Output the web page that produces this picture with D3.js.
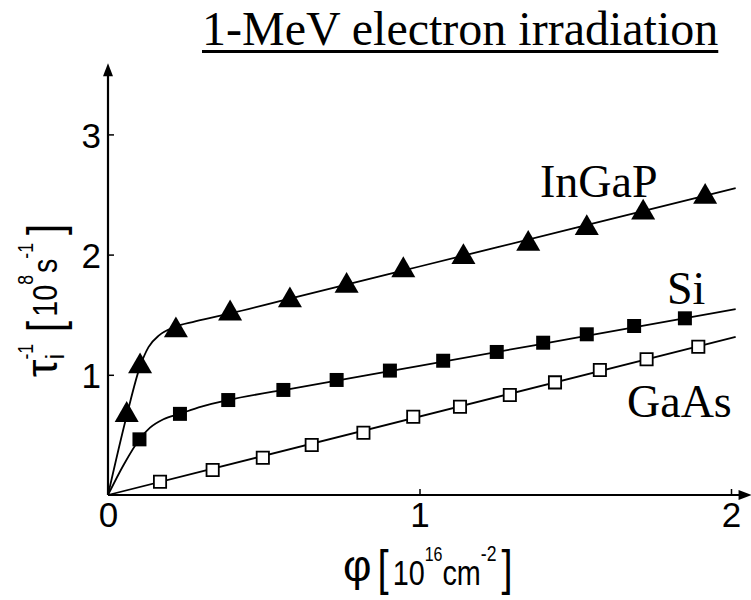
<!DOCTYPE html>
<html><head><meta charset="utf-8">
<script src="https://cdn.jsdelivr.net/npm/d3@7"></script>
<style>body{margin:0;background:#fff;} svg{display:block;}</style>
</head><body>
<svg id="chart" width="751" height="600"></svg>
<script>
// ---------- data ----------
const seriesNames = ["InGaP", "Si", "GaAs"];
// measured points
const ingapX = [0.060,0.103,0.218,0.392,0.584,0.766,0.948,1.141,1.349,1.537,1.718,1.917];
const ingapY = [0.666,1.070,1.370,1.510,1.620,1.740,1.870,1.980,2.090,2.220,2.350,2.480];
const siX    = [0.101,0.231,0.386,0.563,0.734,0.905,1.076,1.248,1.397,1.537,1.689,1.852];
const siY    = [0.463,0.675,0.790,0.874,0.957,1.035,1.117,1.190,1.267,1.337,1.406,1.470];
const gaasX  = [0.167,0.336,0.497,0.654,0.820,0.980,1.130,1.290,1.435,1.579,1.729,1.895];
const gaasY  = [0.110,0.208,0.310,0.416,0.518,0.651,0.735,0.832,0.937,1.040,1.129,1.234];
// fitted curves
const ingapFitX = [0,0.060,0.103,0.130,0.165,0.210,0.280,0.392,0.600,1.000,1.500,2.015];
const ingapFitY = [0,0.660,1.070,1.230,1.330,1.395,1.445,1.510,1.644,1.901,2.222,2.553];
const siFitX    = [0,0.050,0.100,0.135,0.178,0.231,0.300,0.386,0.600,1.000,1.500,2.015];
const siFitY    = [0,0.250,0.460,0.560,0.630,0.676,0.735,0.790,0.890,1.075,1.307,1.546];
const gaasFitX  = [0,2.015];
const gaasFitY  = [0,1.315];
// axes
const xTicks = [0,1,2];
const yTicks = [1,2,3];
const xDomain = [0,2];
const yDomain = [0,3];
const titleText = "1-MeV electron irradiation";

// ---------- drawing ----------
const svg = d3.select("#chart");
const sans = "'Liberation Sans',Arial,Helvetica,sans-serif";
const serif = "'Liberation Serif','Times New Roman',serif";

const x = d3.scaleLinear().domain(xDomain).range([108, 731]);
const y = d3.scaleLinear().domain(yDomain).range([495, 134.4]);

// axis lines with arrows
const ax = svg.append("g");
ax.append("line").attr("x1", x(0)).attr("x2", x(2.05)).attr("y1", y(0)).attr("y2", y(0))
  .attr("stroke","#000").attr("stroke-width",2.2);
ax.append("line").attr("x1", x(0)).attr("x2", x(0)).attr("y1", y(0)).attr("y2", y(3.55))
  .attr("stroke","#000").attr("stroke-width",2.2);
const xe = x(2.05), ye = y(0);
ax.append("path").attr("d", `M${xe+5},${ye} L${xe-8},${ye-5} L${xe-8},${ye+5} Z`).attr("fill","#000");
const yx = x(0), yt = y(3.55);
ax.append("path").attr("d", `M${yx},${yt-5} L${yx-5},${yt+8} L${yx+5},${yt+8} Z`).attr("fill","#000");

// axes ticks + labels
const gx = svg.append("g").attr("transform", `translate(0,${y(0)})`)
  .call(d3.axisBottom(x).tickValues(xTicks).tickSize(-6).tickPadding(7).tickFormat(d3.format("d")));
const gy = svg.append("g").attr("transform", `translate(${x(0)},0)`)
  .call(d3.axisLeft(y).tickValues(yTicks).tickSize(-6).tickPadding(7).tickFormat(d3.format("d")));
[gx, gy].forEach(g => {
  g.select(".domain").remove();
  g.selectAll(".tick line").attr("stroke","#000").attr("stroke-width",1.5);
  g.selectAll(".tick text").attr("fill","#000").style("font-family", sans).style("font-size","35px");
});
gy.selectAll(".tick text").attr("dy","0.36em");

// fitted lines
const line = d3.line().x(d => x(d[0])).y(d => y(d[1])).curve(d3.curveMonotoneX);
const fits = [
  d3.zip(ingapFitX, ingapFitY),
  d3.zip(siFitX, siFitY),
  d3.zip(gaasFitX, gaasFitY)
];
svg.append("g").selectAll("path").data(fits).join("path")
  .attr("d", line).attr("fill","none").attr("stroke","#000").attr("stroke-width",1.8);

// markers
const tri = d3.symbol().type(d3.symbolTriangle).size(250);
svg.append("g").selectAll("path").data(d3.zip(ingapX, ingapY)).join("path")
  .attr("d", tri).attr("transform", d => `translate(${x(d[0])},${y(d[1])})`).attr("fill","#000");
const sq = d3.symbol().type(d3.symbolSquare).size(196);
svg.append("g").selectAll("path").data(d3.zip(siX, siY)).join("path")
  .attr("d", sq).attr("transform", d => `translate(${x(d[0])},${y(d[1])})`).attr("fill","#000");
const osq = d3.symbol().type(d3.symbolSquare).size(150);
svg.append("g").selectAll("path").data(d3.zip(gaasX, gaasY)).join("path")
  .attr("d", osq).attr("transform", d => `translate(${x(d[0])},${y(d[1])})`)
  .attr("fill","#fff").attr("stroke","#000").attr("stroke-width",1.8);

// series labels
const labelPos = [[540,197],[667,304],[627,417]];
svg.append("g").selectAll("text").data(seriesNames).join("text")
  .attr("x", (d,i) => labelPos[i][0]).attr("y", (d,i) => labelPos[i][1])
  .style("font-family", serif).style("font-size","46px").attr("fill","#000").text(d => d);

// title with underline
const tt = svg.append("text").attr("x", 202).attr("y", 45)
  .style("font-family", serif).style("font-size","48px").attr("fill","#000").text(titleText);
const tw = tt.node().getComputedTextLength();
svg.append("line").attr("x1",202).attr("x2",202+tw).attr("y1",51.5).attr("y2",51.5)
  .attr("stroke","#000").attr("stroke-width",3);

// helper: sequential text pieces, each optionally narrowed horizontally
function makeAdder(g) {
  const st = { cx: 0 };
  st.add = (t, size, dy, sx) => {
    sx = sx || 1;
    const e = g.append("text").attr("transform", `translate(${st.cx},${dy}) scale(${sx},1)`)
      .style("font-family", sans).style("font-size", size+"px").attr("fill","#000").text(t);
    return e.node().getComputedTextLength() * sx;
  };
  return st;
}
const N = 0.8; // narrow factor

// y-axis title (rotated)
{
  const g = svg.append("g").attr("transform","translate(57,377) rotate(-90)");
  const s = makeAdder(g);
  s.cx += s.add("τ", 44, 0, 1);
  const ix = s.cx;
  const wi = s.add("i", 26, 7, 1);
  const wm = s.add("-1", 22, -24, N);
  s.cx = ix + Math.max(wi, wm) + 12;
  s.cx += s.add("[", 50, 5, 0.8) + 4;
  s.cx += s.add("10", 36, 0, N);
  s.cx += s.add("8", 22, -24, N) + 2;
  s.cx += s.add("s", 36, 0, N);
  s.cx += s.add("-1", 22, -24, N) + 8;
  s.add("]", 50, 5, 0.8);
}

// x-axis title
{
  const g = svg.append("g").attr("transform","translate(343,585)");
  const s = makeAdder(g);
  s.cx += s.add("φ", 44, -4, 1) + 6;
  s.cx += s.add("[", 50, 0, 0.8) + 4;
  s.cx += s.add("10", 36, 0, N);
  s.cx += s.add("16", 20, -24, N);
  s.cx += s.add("cm", 36, 0, N);
  s.cx += s.add("-2", 22, -24, N) + 5;
  s.add("]", 50, 0, 0.8);
}
</script>
</body></html>
